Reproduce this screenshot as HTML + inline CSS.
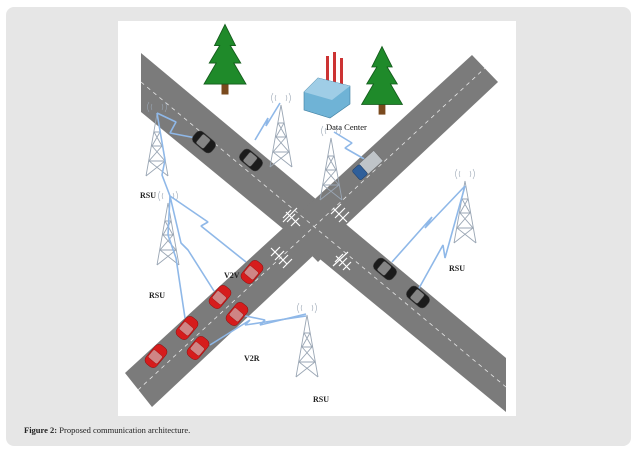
<!DOCTYPE html>
<html><head><meta charset="utf-8"><style>
html,body{margin:0;padding:0;background:#fff;}
body{width:638px;height:450px;position:relative;overflow:hidden;font-family:"Liberation Serif",serif;}
.panel{position:absolute;left:6px;top:7px;width:625px;height:439px;background:#e6e6e6;border-radius:8px;}
.cap{position:absolute;left:24px;top:425px;font-size:8.5px;color:#222;font-family:"Liberation Serif",serif;}
.cap b{font-weight:bold;}
svg{position:absolute;left:0;top:0;}
</style></head><body>
<div class="panel"></div>
<svg width="638" height="450" viewBox="0 0 638 450">
<defs>
<g id="tower" fill="none" stroke="#9aa6b4" stroke-width="0.9">
<path d="M0,0 L-11,62 M0,0 L11,62 M-3,18 L3,18 M-5,32 L5,32 M-8,47 L8,47 M-3,18 L5,32 L-8,47 L11,62 M3,18 L-5,32 L8,47 L-11,62"/>
<path d="M-5,-4 a6,6 0 0 1 0,-6 M5,-4 a6,6 0 0 0 0,-6 M-8,-2 a9,9 0 0 1 0,-10 M8,-2 a9,9 0 0 0 0,-10" stroke-width="0.6"/>
</g>
<g id="car">
<rect x="-12" y="-7" width="24" height="14" rx="5"/>
<rect x="-6" y="-6" width="10" height="12" rx="2" fill="#ccc" opacity="0.6"/>
</g>
<g id="tree">
<rect x="-2" y="30" width="4" height="8" fill="#7a4a1e"/>
<path d="M0,-2 L-6,10 L-3,10 L-9,20 L-5,20 L-12,32 L12,32 L5,20 L9,20 L3,10 L6,10Z" fill="#1f8a2a" stroke="#145c1c" stroke-width="0.5"/>
</g>
</defs>
<rect x="118" y="21" width="398" height="395" fill="#fff"/>
<polygon points="141,53 506,358 506,412 141,112" fill="#7b7b7b"/>
<polygon points="125,373 472,55 498,82 152,407" fill="#7b7b7b"/>
<polygon points="318,205 347,232 318,262 289,232" fill="#7b7b7b"/>
<line x1="141" y1="82" x2="506" y2="387" stroke="#e8e8e8" stroke-width="0.8" stroke-dasharray="4,4"/>
<line x1="138" y1="390" x2="485" y2="68" stroke="#e8e8e8" stroke-width="0.8" stroke-dasharray="4,4"/>
<g stroke="#fff" stroke-width="1.2" fill="none">
<path d="M283,222 L297,208 M286,212 L300,226 M283,218 L291,210 M287,222 L295,214 M291,226 L299,218"/>
<path d="M333,208 L347,222 M331,214 L341,204 M335,218 L345,208 M339,222 L349,212"/>
<path d="M271,248 L287,264 M271,256 L280,247 M275,260 L284,251 M279,264 L288,255 M283,268 L292,259"/>
<path d="M333,266 L348,252 M336,256 L350,270 M335,262 L343,254 M339,266 L347,258 M343,270 L351,262"/>
</g>
<g transform="translate(225,28) scale(1.75)"><use href="#tree"/></g>
<g transform="translate(382,50) scale(1.7)"><use href="#tree"/></g>
<g>
<rect x="326" y="56" width="3" height="34" fill="#c33"/>
<rect x="333" y="52" width="3" height="38" fill="#c33"/>
<rect x="340" y="58" width="3" height="32" fill="#c33"/>
<polygon points="304,92 318,78 350,86 350,104 330,118 304,110" fill="#6fb3d6" stroke="#3d7da0" stroke-width="0.6"/>
<polygon points="304,92 318,78 350,86 332,100" fill="#9fcde6"/>
</g>
<text x="326" y="130" font-size="8.5" font-family="Liberation Serif,serif" fill="#111">Data Center</text>
<use href="#tower" x="157" y="114"/>
<use href="#tower" x="168" y="203"/>
<use href="#tower" x="281" y="105"/>
<use href="#tower" x="331" y="138"/>
<use href="#tower" x="465" y="181"/>
<use href="#tower" x="307" y="315"/>
<g font-size="8" font-family="Liberation Serif,serif" font-weight="bold" fill="#222">
<text x="140" y="198">RSU</text>
<text x="149" y="298">RSU</text>
<text x="449" y="271">RSU</text>
<text x="313" y="402">RSU</text>
<text x="224" y="278">V2V</text>
<text x="244" y="361">V2R</text>
</g>
<g fill="none" stroke="#8fb8e8" stroke-width="1.6" stroke-linejoin="bevel">
<path d="M157,113 L176,122 L170,133 L196,138"/>
<path d="M255,140 L268,118 L266,126 L280,103"/>
<path d="M334,132 L352,143 L345,148 L366,160"/>
<path d="M170,196 L208,222 L201,226 L246,262"/>
<path d="M170,196 L181,243 L188,250 L214,291"/>
<path d="M170,196 L168,235 L176,258 L185,318"/>
<path d="M236,314 L265,320 L260,325 L306,314"/>
<path d="M210,345 L250,320 L245,325 L306,316"/>
<path d="M392,262 L432,217 L425,228 L465,186"/>
<path d="M418,290 L443,245 L445,258 L465,186"/>
<path d="M157,113 L165,160 L162,175 L170,196"/>
</g>
<g fill="#1b1b1b" stroke="#444" stroke-width="0.5">
<use href="#car" transform="translate(204,142) rotate(40)"/>
<use href="#car" transform="translate(251,160) rotate(40)"/>
<use href="#car" transform="translate(385,269) rotate(40)"/>
<use href="#car" transform="translate(418,297) rotate(40)"/>
</g>
<g fill="#d61c1c" stroke="#8a0f0f" stroke-width="0.5">
<use href="#car" transform="translate(252,272) rotate(-50)"/>
<use href="#car" transform="translate(220,297) rotate(-50)"/>
<use href="#car" transform="translate(237,314) rotate(-50)"/>
<use href="#car" transform="translate(187,328) rotate(-50)"/>
<use href="#car" transform="translate(198,348) rotate(-50)"/>
<use href="#car" transform="translate(156,356) rotate(-50)"/>
</g>
<g transform="translate(368,165) rotate(-42)">
<rect x="-6" y="-7" width="20" height="14" fill="#bfc4c8" stroke="#666" stroke-width="0.5"/>
<rect x="-16" y="-6.5" width="10" height="13" rx="2" fill="#2f5f9a" stroke="#1a3a66" stroke-width="0.5"/>
</g>
</svg>
<div class="cap"><b>Figure 2:</b> Proposed communication architecture.</div>
</body></html>
